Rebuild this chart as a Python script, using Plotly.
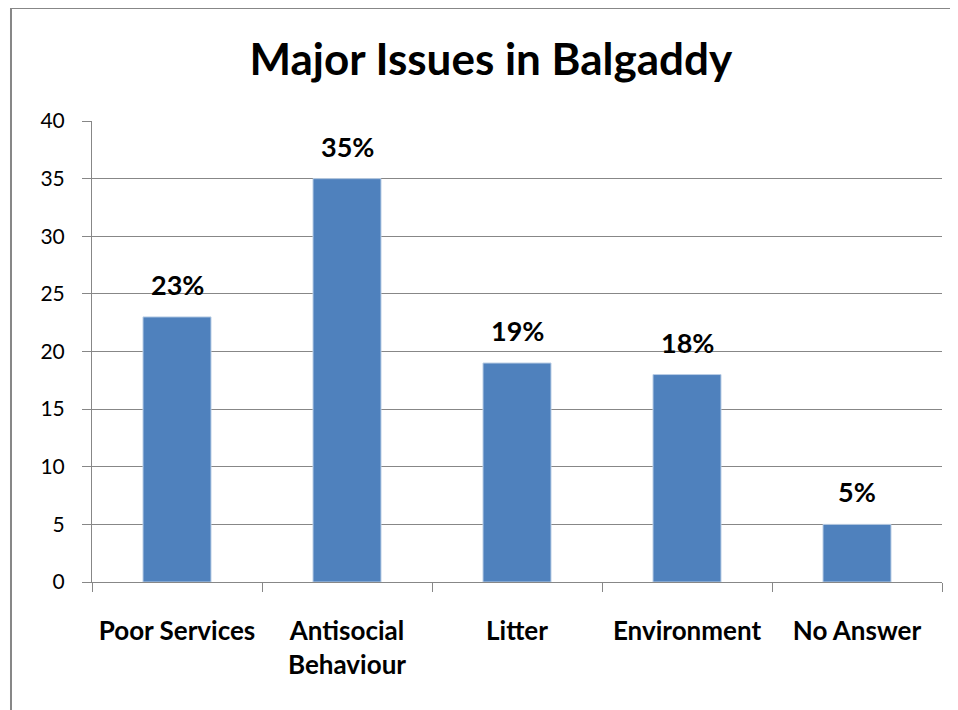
import plotly.graph_objects as go

categories = ["Poor Services", "Antisocial<br>Behaviour", "Litter", "Environment", "No Answer"]
values = [23, 35, 19, 18, 5]
y_ticks = [0, 5, 10, 15, 20, 25, 30, 35, 40]

FONT = "Lato, Calibri, sans-serif"
BLUE = "#4F81BD"
GRAY = "#878787"

fig = go.Figure()

fig.add_trace(go.Bar(
    x=categories,
    y=values,
    width=0.4,
    marker=dict(color=BLUE, line=dict(color="#B9CDE5", width=1)),
    hoverinfo="skip",
))

# etiquetas de porcentaje sobre cada barra
for c, v in zip(categories, values):
    fig.add_annotation(
        x=c, y=v, text=f"<b>{v}%</b>", showarrow=False,
        yanchor="bottom", yshift=14,
        font=dict(family=FONT, size=27, color="black"),
    )

fig.update_layout(
    width=958, height=710,
    margin=dict(l=84, r=24, t=113, b=136),
    paper_bgcolor="white", plot_bgcolor="white",
    showlegend=False,
    title=dict(
        text="<b>Major Issues in Balgaddy</b>",
        x=0.504, xanchor="center", y=0.927, yanchor="middle",
        font=dict(family=FONT, size=44, color="black"),
    ),
    font=dict(family=FONT, color="black"),
)

fig.update_xaxes(
    showline=True, linecolor=GRAY, linewidth=1,
    ticks="outside", tickson="boundaries", ticklen=9, tickcolor=GRAY,
    tickfont=dict(family=FONT, size=26, color="black"),
    tickprefix="<b>", ticksuffix="</b>",
    ticklabelstandoff=26,
    showgrid=False,
)

fig.update_yaxes(
    range=[0, 40], tickvals=y_ticks,
    showline=True, linecolor=GRAY, linewidth=1,
    ticks="outside", ticklen=9, tickcolor=GRAY,
    showgrid=True, gridcolor=GRAY, gridwidth=1,
    zeroline=False,
    tickfont=dict(family=FONT, size=21, color="black"),
    ticklabelstandoff=13,
)

# borde del grafico (sale por la derecha y abajo)
fig.add_shape(
    type="rect", xref="paper", yref="paper",
    x0=-0.0953, x1=1.03, y0=-0.285, y1=1.245,
    line=dict(color=GRAY, width=2), fillcolor="rgba(0,0,0,0)", layer="below",
)

fig.write_html("out.html")
